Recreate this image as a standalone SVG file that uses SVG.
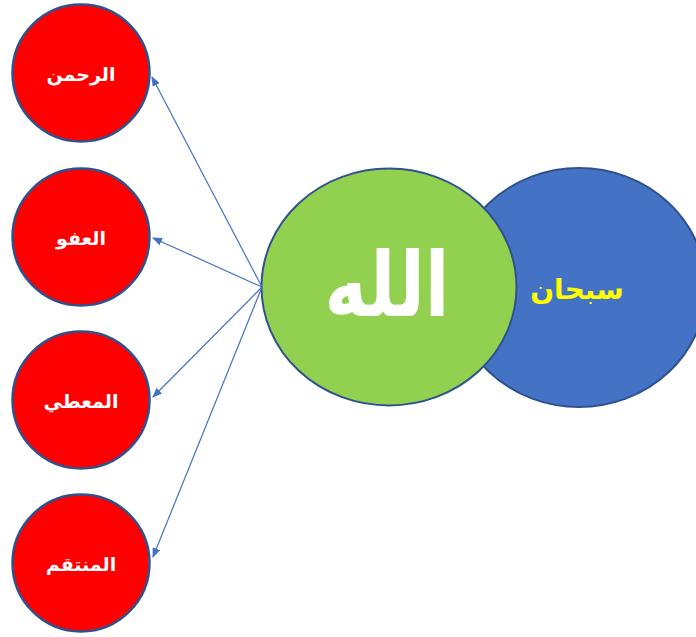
<svg xmlns="http://www.w3.org/2000/svg" width="696" height="637" viewBox="0 0 696 637">
<style>
.red{fill:#FF0000;stroke:#2F528F;stroke-width:2.5}
.lbl{font-family:"Liberation Sans","DejaVu Sans",sans-serif;font-weight:bold;fill:#FFFFFF;text-anchor:middle}
.conn{stroke:#4472C4;stroke-width:1.2;fill:none;marker-end:url(#ah)}
</style>
<defs>
<marker id="ah" markerWidth="10" markerHeight="8" refX="9" refY="4" orient="auto" markerUnits="userSpaceOnUse">
<path d="M0,0 L10,4 L0,8 Z" fill="#4472C4"/>
</marker>
</defs>
<rect width="696" height="637" fill="#FFFFFF"/>
<g id="node-subhan">
<ellipse cx="579" cy="287.5" rx="127" ry="119.5" fill="#4472C4" stroke="#2F528F" stroke-width="2"/>
<text x="577" y="299" font-size="28" class="lbl" style="fill:#FFFF00">سبحان</text>
</g>
<g id="node-allah">
<ellipse cx="389" cy="287" rx="127.5" ry="118.5" fill="#92D050" stroke="#2F528F" stroke-width="2"/>
<text x="387" y="316" font-size="72" class="lbl" transform="translate(387 316) scale(1 1.25) translate(-387 -316)">الله</text>
</g>
<g id="node-rahman">
<circle cx="81" cy="73" r="68.5" class="red"/>
<text x="81" y="81" font-size="19" class="lbl">الرحمن</text>
</g>
<g id="node-afu">
<circle cx="81" cy="237" r="68.5" class="red"/>
<text x="81" y="245" font-size="19" class="lbl">العفو</text>
</g>
<g id="node-muti">
<circle cx="81" cy="400" r="68.5" class="red"/>
<text x="81" y="408" font-size="19" class="lbl">المعطي</text>
</g>
<g id="node-muntaqim">
<circle cx="81" cy="563" r="68.5" class="red"/>
<text x="81" y="571" font-size="19" class="lbl">المنتقم</text>
</g>
<g id="connectors">
<line x1="262" y1="287" x2="152" y2="77" class="conn"/>
<line x1="262" y1="287" x2="153" y2="238" class="conn"/>
<line x1="262" y1="287" x2="153" y2="397" class="conn"/>
<line x1="262" y1="287" x2="153" y2="557" class="conn"/>
</g>
</svg>
